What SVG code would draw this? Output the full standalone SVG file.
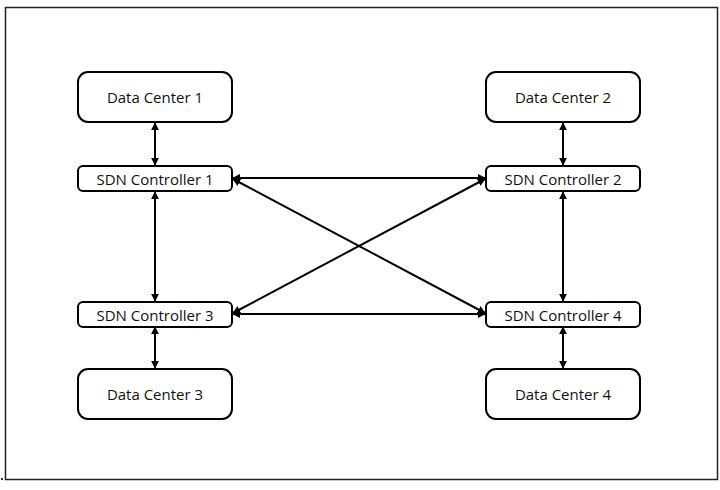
<svg xmlns="http://www.w3.org/2000/svg" width="720" height="490" viewBox="0 0 720 490">
<style>
.dc{fill:#fff;stroke:#000;stroke-width:2}
.t{font-family:"Open Sans","Liberation Sans",sans-serif;font-size:15px;fill:#111;text-anchor:middle;dominant-baseline:central}
.c{stroke:#000;stroke-width:2;fill:none;marker-start:url(#a);marker-end:url(#a)}
</style>
<defs>
<marker id="a" viewBox="0 0 10 10" refX="9" refY="5" markerWidth="4" markerHeight="4" orient="auto-start-reverse" markerUnits="strokeWidth">
<path d="M0,0 L10,5 L0,10 z" fill="#000"/>
</marker>
</defs>
<rect width="720" height="490" fill="#fff"/>
<rect x="5.5" y="7.5" width="712" height="472" fill="none" stroke="#222" stroke-width="1.5"/>
<rect x="1" y="478" width="2" height="2" fill="#333"/>
<g id="connectors">
<line class="c" x1="155" y1="123" x2="155" y2="165"/>
<line class="c" x1="155" y1="192" x2="155" y2="301"/>
<line class="c" x1="155" y1="327" x2="155" y2="368"/>
<line class="c" x1="563" y1="123" x2="563" y2="165"/>
<line class="c" x1="563" y1="192" x2="563" y2="301"/>
<line class="c" x1="563" y1="327" x2="563" y2="368"/>
<line class="c" x1="233" y1="178" x2="485" y2="178"/>
<line class="c" x1="233" y1="314" x2="485" y2="314"/>
<line class="c" x1="233" y1="179" x2="485" y2="313"/>
<line class="c" x1="233" y1="313" x2="485" y2="179"/>
</g>
<g id="dc1"><rect class="dc" x="78" y="72" width="154" height="50" rx="10"/><text class="t" x="155" y="97">Data Center 1</text></g>
<g id="dc2"><rect class="dc" x="486" y="72" width="154" height="50" rx="10"/><text class="t" x="563" y="97">Data Center 2</text></g>
<g id="dc3"><rect class="dc" x="78" y="369" width="154" height="50" rx="10"/><text class="t" x="155" y="394">Data Center 3</text></g>
<g id="dc4"><rect class="dc" x="486" y="369" width="154" height="50" rx="10"/><text class="t" x="563" y="394">Data Center 4</text></g>
<g id="sc1"><rect class="dc" x="78" y="166" width="154" height="25" rx="5"/><text class="t" x="155" y="178.5">SDN Controller 1</text></g>
<g id="sc2"><rect class="dc" x="486" y="166" width="154" height="25" rx="5"/><text class="t" x="563" y="178.5">SDN Controller 2</text></g>
<g id="sc3"><rect class="dc" x="78" y="302" width="154" height="25" rx="5"/><text class="t" x="155" y="314.5">SDN Controller 3</text></g>
<g id="sc4"><rect class="dc" x="486" y="302" width="154" height="25" rx="5"/><text class="t" x="563" y="314.5">SDN Controller 4</text></g>
</svg>
